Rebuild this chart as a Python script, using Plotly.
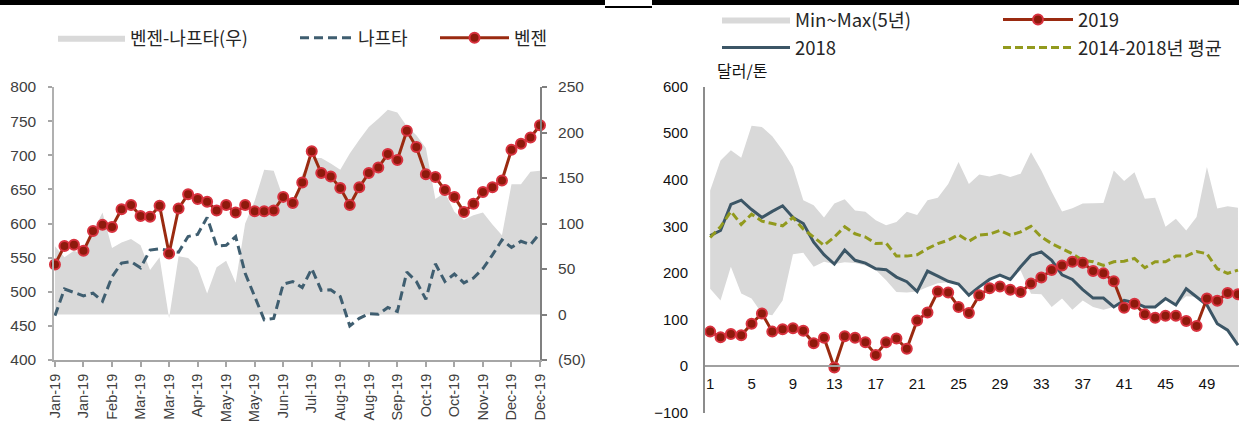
import plotly.graph_objects as go

W, H = 1239, 425

# ---------------- Left chart data (weekly 2019) ----------------
left_tick_labels = ["Jan-19", "Jan-19", "Feb-19", "Mar-19", "Mar-19", "Apr-19", "May-19", "May-19",
                    "Jun-19", "Jul-19", "Aug-19", "Aug-19", "Sep-19", "Oct-19", "Oct-19", "Nov-19",
                    "Dec-19", "Dec-19"]
benzene = [540, 567, 569, 560, 589, 598, 595, 621, 627, 611,
           610, 626, 556, 622, 643, 636, 632, 619, 627, 616,
           627, 618, 618, 619, 639, 630, 660, 706, 674, 669,
           652, 627, 653, 674, 682, 702, 693, 736, 712, 672,
           668, 649, 639, 617, 629, 646, 653, 663, 708, 717,
           726, 744]
naphtha = [465, 504, 499, 494, 498, 486, 522, 542, 544, 535,
           561, 563, 560, 558, 581, 584, 609, 567, 568, 581,
           527, 493, 459, 461, 511, 515, 506, 534, 502, 503,
           493, 450, 461, 468, 467, 477, 471, 529, 515, 489,
           541, 515, 526, 513, 520, 534, 554, 576, 565, 574,
           569, 586]
spread = [75, 63, 70, 66, 91, 112, 73, 79, 83, 76,
          49, 63, -4, 64, 62, 52, 23, 52, 59, 35,
          100, 125, 159, 158, 128, 115, 154, 172, 172, 166,
          159, 177, 192, 206, 215, 225, 222, 207, 197, 183,
          127, 134, 113, 104, 109, 112, 99, 87, 143, 143,
          157, 158]
right_axis_vals = [-50, 0, 50, 100, 150, 200, 250]
right_axis_text = ["(50)", "0", "50", "100", "150", "200", "250"]

# ---------------- Right chart data (weeks 1..52) ----------------
weeks = list(range(1, 53))
mm_max = [377, 441, 463, 447, 516, 513, 493, 463, 427, 356,
          345, 319, 349, 358, 334, 331, 313, 302, 309, 331,
          324, 356, 361, 391, 438, 391, 411, 407, 413, 406,
          413, 459, 420, 374, 332, 339, 349, 350, 350, 420,
          397, 416, 359, 361, 299, 316, 291, 320, 427, 338,
          343, 340]
mm_min = [166, 141, 213, 156, 145, 113, 109, 141, 240, 243,
          213, 224, 219, 223, 221, 216, 206, 184, 159, 158,
          160, 170, 178, 180, 175, 152, 170, 186, 195, 186,
          205, 155, 154, 127, 145, 121, 141, 127, 121, 127,
          141, 136, 127, 127, 145, 131, 150, 149, 131, 91,
          77, 45]
y2018 = [280, 291, 347, 356, 336, 319, 332, 344, 319, 306,
         266, 239, 219, 249, 227, 221, 209, 207, 191, 181,
         160, 204, 193, 182, 176, 152, 170, 186, 195, 186,
         213, 238, 245, 227, 196, 186, 164, 146, 146, 127,
         141, 136, 127, 127, 145, 131, 166, 149, 131, 91,
         77, 45]
avg_14_18 = [276, 299, 332, 304, 326, 311, 306, 301, 319, 294,
             277, 259, 277, 299, 284, 277, 263, 264, 236, 236,
             239, 252, 263, 270, 282, 268, 281, 283, 291, 281,
             288, 300, 277, 263, 252, 241, 227, 224, 216, 224,
             225, 231, 211, 224, 224, 236, 236, 246, 241, 209,
             199, 206]
y2019 = [74, 62, 69, 66, 91, 113, 74, 79, 81, 76,
         49, 61, -3, 64, 61, 51, 24, 51, 59, 37,
         98, 115, 160, 158, 127, 114, 152, 167, 171, 164,
         159, 177, 190, 206, 216, 224, 222, 204, 199, 182,
         125, 134, 111, 104, 108, 108, 97, 86, 145, 140,
         157, 154]
week_ticks = [1, 5, 9, 13, 17, 21, 25, 29, 33, 37, 41, 45, 49]

# ---------------- styles ----------------
GRAY_FILL = "#d9d9d9"
RED_LINE = "#9a2a10"
RED_MK = "#8e1a0c"
RED_MK_EDGE = "#d8323f"
NAPH = "#3f5e70"
C2018 = "#3c5666"
OLIVE = "#929a1e"
LAT = "Liberation Sans, Arial, sans-serif"
TICK_FONT = dict(family=LAT, size=15.5, color="#404040")
XTICK_FONT = dict(family=LAT, size=14.5, color="#404040")
KR = "Noto Sans CJK KR, Noto Sans, sans-serif"

def px_x(p):
    return p / W

def px_y(p):
    return (H - p) / H

idx = list(range(len(benzene)))

fig = go.Figure()

# Left chart: spread area on base axis (right side), lines on overlay axis (left side)
fig.add_trace(go.Scatter(x=idx, y=spread, xaxis="x", yaxis="y", mode="lines",
                         line=dict(width=0, color=GRAY_FILL), fill="tozeroy", fillcolor=GRAY_FILL,
                         name="벤젠-나프타(우)", legend="legend"))
fig.add_trace(go.Scatter(x=idx, y=naphtha, xaxis="x", yaxis="y2", mode="lines",
                         line=dict(color=NAPH, width=3, dash="9px,5px"),
                         name="나프타", legend="legend2", cliponaxis=False))
fig.add_trace(go.Scatter(x=idx, y=benzene, xaxis="x", yaxis="y2", mode="lines+markers",
                         line=dict(color=RED_LINE, width=3),
                         marker=dict(size=10, color=RED_MK, line=dict(color=RED_MK_EDGE, width=2)),
                         name="벤젠", legend="legend3", cliponaxis=False))

# Right chart
fig.add_trace(go.Scatter(x=weeks, y=mm_min, xaxis="x2", yaxis="y3", mode="lines",
                         line=dict(width=0, color=GRAY_FILL), showlegend=False, hoverinfo="skip"))
fig.add_trace(go.Scatter(x=weeks, y=mm_max, xaxis="x2", yaxis="y3", mode="lines",
                         line=dict(width=0, color=GRAY_FILL), fill="tonexty", fillcolor=GRAY_FILL,
                         name="Min~Max(5년)", legend="legend4"))
fig.add_trace(go.Scatter(x=weeks, y=y2018, xaxis="x2", yaxis="y3", mode="lines",
                         line=dict(color=C2018, width=3), name="2018", legend="legend6", cliponaxis=False))
fig.add_trace(go.Scatter(x=weeks, y=avg_14_18, xaxis="x2", yaxis="y3", mode="lines",
                         line=dict(color=OLIVE, width=3, dash="8px,4px"),
                         name="2014-2018년 평균", legend="legend7", cliponaxis=False))
fig.add_trace(go.Scatter(x=weeks, y=y2019, xaxis="x2", yaxis="y3", mode="lines+markers",
                         line=dict(color=RED_LINE, width=3),
                         marker=dict(size=10, color=RED_MK, line=dict(color=RED_MK_EDGE, width=2)),
                         name="2019", legend="legend5", cliponaxis=False))

# ---------------- axes ----------------
L_TOP, L_BOT = 87, 360
R_TOP, R_BOT = 86.5, 412.7
r_min, r_max = -100, 600
r_dom = [px_y(R_BOT), px_y(R_TOP)]
zero_pos = r_dom[0] + (0 - r_min) / (r_max - r_min) * (r_dom[1] - r_dom[0])

fig.update_layout(
    width=W, height=H, margin=dict(l=0, r=0, t=0, b=0, autoexpand=False),
    paper_bgcolor="white", plot_bgcolor="rgba(0,0,0,0)",
    xaxis=dict(domain=[px_x(54), px_x(540)], anchor="y", range=[-0.1, 51.0],
               tickvals=idx[::3], ticktext=left_tick_labels, tickangle=-90,
               ticks="outside", ticklen=5, tickcolor="#a6a6a6", tickwidth=1.5,
               showline=True, linecolor="#a6a6a6", linewidth=2, automargin=False,
               showgrid=False, zeroline=False, tickfont=XTICK_FONT, ticklabelstandoff=1),
    yaxis=dict(domain=[px_y(L_BOT), px_y(L_TOP)], anchor="x", side="right", range=[-50, 250],
               tickvals=right_axis_vals, ticktext=right_axis_text,
               ticks="outside", ticklen=5, tickcolor="#808080", tickwidth=1.5,
               showline=True, linecolor="#808080", linewidth=2, automargin=False,
               showgrid=False, zeroline=False, tickfont=TICK_FONT, ticklabelstandoff=8),
    yaxis2=dict(overlaying="y", anchor="x", side="left", range=[400, 800], dtick=50,
                ticks="outside", ticklen=4, tickcolor="#a6a6a6", tickwidth=1.5,
                showline=True, linecolor="#b0b0b0", linewidth=1.5, automargin=False,
                showgrid=False, zeroline=False, tickfont=TICK_FONT, ticklabelstandoff=9),
    xaxis2=dict(domain=[px_x(705), 1.0], anchor="free", position=zero_pos, range=[0.5, 52.1],
                tickvals=week_ticks, ticks="", showline=True, linecolor="#a0a0a0", linewidth=2,
                showgrid=False, zeroline=False, automargin=False,
                tickfont=dict(family=LAT, size=15, color="#111111"),
                ticklabelstandoff=4),
    yaxis3=dict(domain=r_dom, anchor="x2", range=[r_min, r_max], dtick=100,
                ticks="", showline=True, linecolor="#8c8c8c", linewidth=2,
                showgrid=False, zeroline=False, automargin=False,
                tickfont=dict(family=LAT, size=15, color="#111111"),
                ticklabelstandoff=12),
    showlegend=True,
)

def leg(xpx, ypx, iw, size):
    return dict(x=px_x(xpx), y=px_y(ypx), xanchor="left", yanchor="middle",
                orientation="h", itemwidth=iw, bgcolor="rgba(0,0,0,0)", borderwidth=0,
                font=dict(family=KR, size=size, color="#262626"), itemclick=False)

fig.update_layout(
    legend=leg(53, 38, 67, 18),
    legend2=leg(295, 38, 53, 18),
    legend3=leg(435, 38, 69, 18),
    legend4=leg(717, 20, 68, 18.5),
    legend5=leg(998, 20, 70, 18.5),
    legend6=leg(717, 48, 68, 18.5),
    legend7=leg(998, 48, 70, 18.5),
)

fig.add_annotation(text="달러/톤", xref="paper", yref="paper", x=px_x(715), y=px_y(70),
                   xanchor="left", yanchor="middle", showarrow=False,
                   font=dict(family=KR, size=16, color="#111111"))

# top decorative rules
fig.add_shape(type="rect", xref="paper", yref="paper", x0=0, x1=px_x(605), y0=px_y(5), y1=1,
              fillcolor="black", line=dict(width=0))
fig.add_shape(type="rect", xref="paper", yref="paper", x0=px_x(605), x1=px_x(652), y0=px_y(8), y1=px_y(6),
              fillcolor="black", line=dict(width=0))
fig.add_shape(type="rect", xref="paper", yref="paper", x0=px_x(652), x1=1, y0=px_y(5), y1=1,
              fillcolor="black", line=dict(width=0))

# remove default page margin so the 1239x425 figure fills the window exactly
fig.write_html("out.html", config={"displayModeBar": False},
               post_script="document.body.style.margin='0';document.body.style.overflow='hidden';")
